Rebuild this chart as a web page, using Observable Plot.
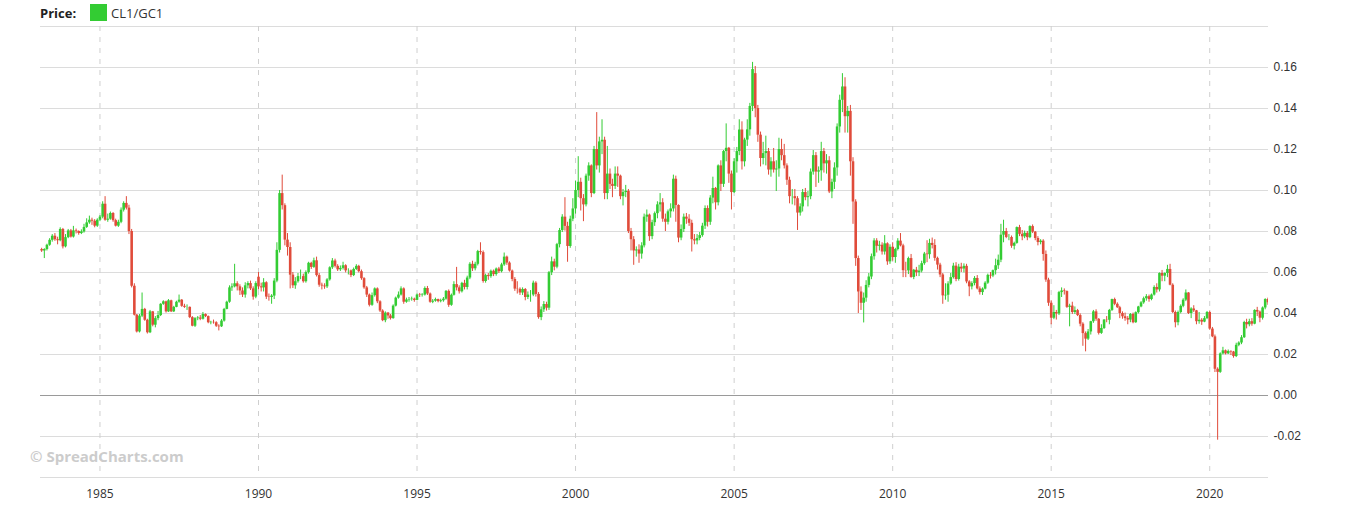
<!DOCTYPE html>
<html><head><meta charset="utf-8">
<script src="https://cdn.jsdelivr.net/npm/d3@7"></script>
<script src="https://cdn.jsdelivr.net/npm/@observablehq/plot@0.6"></script>
<style>
body{margin:0;background:#fff;width:1350px;height:506px;overflow:hidden;position:relative;font-family:"Open Sans",sans-serif}
#legend{height:22px;position:relative}
#legend .lab{position:absolute;left:40px;top:5px;font-weight:bold;font-size:13px;line-height:17px;color:#222}
#legend .sw{position:absolute;left:90px;top:4px;width:17px;height:17px;background:#33cc33}
#legend .nm{position:absolute;left:111px;top:5px;font-size:13px;line-height:17px;color:#333}
#wm{position:absolute;left:30px;top:448px;font-weight:bold;font-size:15px;line-height:16px;color:#cccccc;white-space:nowrap}
svg{display:block}
</style></head><body>
<div id="legend"><span class="lab">Price:</span><span class="sw"></span><span class="nm">CL1/GC1</span></div>
<div id="chart"></div>
<div id="wm">© SpreadCharts.com</div>
<script>
// Monthly candles of CL1/GC1, first month March 1983
const firstMonth = [1983, 2];
const seriesName = "CL1/GC1";
const yearTicks = [1985, 1990, 1995, 2000, 2005, 2010, 2015, 2020];
const priceTicks = [-0.02, 0, 0.02, 0.04, 0.06, 0.08, 0.10, 0.12, 0.14, 0.16];
const gridLevels = [-0.04, -0.02, 0, 0.02, 0.04, 0.06, 0.08, 0.10, 0.12, 0.14, 0.16, 0.18];

const open = [
.0712,.0705,.0712,.0733,.0757,.0777,.076,.0755,.081,.0725,
.077,.0803,.0773,.0803,.080,.079,.0798,.082,.0842,.0855,.085,.0826,
.0855,.087,.0933,.0855,.086,.0888,.0853,.0826,.0845,.0904,.0937,.0914,
.080,.0533,.0392,.031,.0387,.042,.0367,.0306,.0408,.0343,.0375,.039,
.0445,.0457,.0408,.0462,.0408,.043,.0455,.0465,.0435,.043,.043,.038,
.0338,.0375,.0378,.0372,.0395,.0385,.0355,.0357,.0355,.0338,.0335,.0363,
.042,.0455,.0525,.053,.0545,.053,.051,.049,.0535,.0546,.052,.048,
.0577,.053,.0525,.055,.048,.0478,.0485,.0558,.0708,.0985,.0926,.0758,
.0722,.0587,.0535,.0555,.058,.058,.0555,.06,.0645,.0625,.0657,.0585,
.0538,.0534,.053,.0564,.0623,.0656,.063,.0613,.062,.0633,.0608,.0608,
.0585,.0615,.063,.0604,.057,.0525,.049,.044,.0487,.052,.0457,.0412,
.0365,.0402,.0388,.0375,.0436,.0475,.049,.052,.0455,.0466,.0468,.047,
.0464,.049,.0488,.049,.0522,.0495,.0455,.046,.0468,.0458,.0462,.047,
.0508,.044,.0489,.0541,.0525,.0506,.0547,.0527,.0573,.064,.0618,.064,
.0702,.0697,.0556,.0585,.058,.0606,.059,.0617,.0604,.0637,.0675,.0646,
.0607,.0566,.0519,.0518,.050,.0517,.0478,.049,.049,.0548,.0493,.038,
.0418,.0444,.0426,.0599,.0652,.0626,.0736,.0805,.087,.0825,.0727,.086,
.091,.100,.104,.096,.093,.107,.112,.0985,.120,.112,.1237,.1245,
.0985,.108,.103,.102,.108,.107,.097,.099,.0996,.080,.076,.0705,
.071,.069,.073,.087,.088,.0775,.0843,.0887,.093,.094,.086,.0845,
.0896,.091,.1055,.0927,.0768,.081,.087,.086,.084,.076,.0754,.0766,
.078,.0826,.0912,.0845,.0963,.101,.094,.112,.103,.119,.1206,.108,
.099,.114,.119,.1295,.114,.1246,.1296,.141,.157,.140,.127,.1156,
.118,.119,.110,.114,.110,.1105,.120,.117,.112,.105,.097,.097,
.096,.089,.092,.099,.0965,.097,.109,.117,.109,.1096,.119,.113,
.1145,.0993,.104,.111,.131,.144,.1505,.136,.1386,.114,.0944,.0668,
.0505,.045,.0475,.0537,.0578,.0677,.0754,.0728,.0733,.070,.074,.0652,
.0723,.0673,.0712,.0753,.073,.0609,.0608,.0668,.0576,.0611,.0599,.0607,
.0643,.069,.0687,.0742,.0732,.0669,.0636,.0588,.0486,.0489,.0544,.0575,
.0631,.0566,.0626,.0617,.063,.0554,.053,.0546,.0571,.052,.0502,.0519,
.0548,.0586,.0583,.0609,.0633,.066,.0782,.080,.0771,.0771,.0728,.0742,
.0819,.0786,.0774,.0791,.077,.0824,.0797,.0766,.0746,.0753,.0688,.0563,
.045,.0377,.0405,.0398,.0502,.051,.0507,.043,.0436,.0405,.0414,.039,
.0348,.0302,.0275,.031,.036,.0408,.0372,.0303,.0327,.0368,.0367,.0415,
.0468,.0445,.0428,.040,.0384,.0375,.0368,.0395,.0355,.0404,.0432,.0452,
.0472,.0482,.0468,.049,.0527,.0515,.0595,.0582,.0595,.0615,.0538,.0405,
.0355,.0405,.0435,.0465,.050,.040,.0422,.0413,.036,.0367,.0358,.0375,
.0405,.0324,.0286,.0128,.0113,.0203,.0218,.0203,.0215,.0212,.019,.0245,
.0256,.0282,.0356,.0345,.036,.0348,.0415,.0407,.0377,.0427,.0468
];

const high = [
.0718,.0716,.0738,.0765,.0785,.079,.0772,.0818,.0815,.0785,
.081,.081,.0825,.0812,.0803,.0808,.0835,.0862,.0875,.0865,.0858,.0862,
.0878,.0945,.097,.0885,.0895,.0892,.086,.0855,.0915,.0945,.097,.0928,
.081,.0545,.0395,.0395,.050,.0425,.0372,.0415,.041,.0385,.041,.0448,
.0462,.046,.0468,.0465,.0435,.046,.049,.0468,.0445,.0442,.0432,.0385,
.038,.0385,.039,.0405,.0398,.0388,.0362,.0368,.036,.0345,.037,.0425,
.046,.0535,.0545,.064,.0555,.054,.0525,.055,.0555,.0558,.053,.0555,
.060,.0548,.057,.0555,.0495,.0492,.057,.0745,.100,.1075,.0935,.079,
.0745,.060,.0575,.0595,.0612,.0592,.0608,.065,.065,.067,.0675,.0595,
.0548,.0545,.057,.0628,.0668,.0665,.0638,.0632,.065,.0638,.0618,.0612,
.0622,.0638,.0635,.0612,.0575,.0532,.0495,.050,.0525,.0525,.0462,.0418,
.0408,.0405,.0395,.0442,.048,.0505,.053,.0525,.0475,.0478,.048,.0475,
.0495,.0498,.0497,.053,.0532,.050,.0468,.0475,.047,.047,.0478,.0512,
.0515,.0495,.0555,.0625,.0535,.0552,.0562,.0582,.0648,.0655,.065,.0708,
.0745,.0705,.0592,.0595,.0612,.0612,.0622,.0625,.0645,.0695,.068,.0652,
.0612,.0575,.0555,.0525,.0525,.0522,.0505,.0512,.0558,.0555,.0502,.0432,
.0458,.0455,.0605,.0675,.0665,.0742,.0815,.0882,.0965,.0845,.0875,.096,
.1045,.1165,.106,.098,.108,.1135,.1125,.1215,.138,.126,.1345,.126,
.1215,.1105,.1055,.1115,.1115,.1075,.1005,.1025,.1005,.0815,.0775,.0725,
.0735,.0745,.0885,.0905,.0885,.0855,.0895,.0945,.0985,.096,.0885,.0905,
.0935,.1075,.107,.093,.0832,.0885,.0888,.0882,.0855,.0785,.0785,.0795,
.084,.0925,.0925,.0975,.1065,.1015,.1125,.1145,.1195,.1325,.121,.1095,
.1155,.121,.1345,.1335,.1255,.1345,.1425,.1625,.1605,.1415,.1285,.1235,
.1265,.1205,.116,.1205,.1145,.1255,.125,.1225,.113,.1065,.1005,.1005,
.097,.0935,.1005,.101,.0995,.1105,.1195,.1185,.1115,.1235,.1205,.1175,
.1165,.1055,.1135,.1325,.1465,.157,.155,.141,.1415,.116,.0955,.068,
.053,.050,.056,.0595,.069,.0765,.0765,.0752,.0745,.078,.0745,.0735,
.0745,.0718,.0765,.079,.0738,.065,.0675,.0688,.0615,.0625,.0635,.0655,
.0698,.0755,.0762,.0768,.076,.0675,.0645,.0595,.0545,.0555,.0595,.0645,
.0648,.064,.0645,.0642,.064,.056,.0555,.058,.0585,.053,.0525,.0555,
.0592,.060,.0612,.0665,.0685,.0835,.0855,.0815,.0785,.0778,.0748,.0822,
.083,.0805,.0802,.080,.0828,.0832,.080,.0775,.076,.076,.0705,.0572,
.0462,.0438,.0415,.0508,.0525,.052,.051,.0445,.0455,.0432,.042,.0398,
.0355,.031,.0322,.0362,.0415,.0418,.0375,.0345,.037,.0385,.042,.047,
.0475,.0452,.0435,.0408,.0402,.0385,.040,.0402,.0408,.0435,.0458,.048,
.0492,.049,.0495,.0535,.0545,.0598,.061,.0598,.0635,.064,.0545,.0412,
.0412,.0442,.0472,.0515,.0502,.0428,.0438,.0415,.0405,.0375,.0385,.041,
.0412,.0332,.0295,.0135,.0208,.0235,.0222,.0222,.0218,.0215,.0255,.0262,
.0292,.0362,.0372,.0372,.0375,.0418,.043,.0412,.0432,.0472,.0475
];

const low = [
.0698,.0668,.0705,.0728,.0748,.0752,.0735,.075,.0715,.072,
.0765,.0768,.0768,.0788,.0782,.0785,.0792,.0815,.0835,.083,.0818,.082,
.0848,.0862,.085,.0845,.0855,.0845,.0822,.082,.0838,.0895,.0905,.0785,
.0525,.0388,.0305,.0305,.038,.0362,.030,.0302,.0335,.033,.0365,.0385,
.044,.0402,.0405,.0405,.0405,.0428,.045,.043,.0425,.0415,.0375,.0335,
.0332,.0365,.0365,.0368,.038,.035,.0345,.0348,.0332,.0315,.0332,.0358,
.0418,.045,.0508,.0525,.051,.0488,.0478,.0475,.052,.0512,.0465,.0472,
.0515,.0505,.0505,.0468,.046,.0445,.0468,.055,.0695,.0905,.073,.068,
.052,.0522,.0518,.0548,.0565,.0548,.0548,.0592,.0615,.062,.0578,.0528,
.0515,.0518,.0522,.0558,.0615,.0622,.0605,.0605,.0612,.0598,.0588,.0575,
.058,.061,.0598,.0562,.0518,.0478,.0432,.0435,.048,.0448,.0405,.036,
.0355,.0372,.0368,.0372,.0432,.047,.0485,.0445,.045,.0455,.046,.0455,
.0462,.0478,.048,.0485,.0488,.045,.0448,.0455,.0452,.0452,.0455,.0465,
.043,.0435,.0485,.051,.0495,.050,.0515,.0515,.0565,.0605,.0608,.0632,
.0685,.0548,.0548,.0562,.0572,.058,.0582,.0595,.0598,.063,.0635,.0602,
.0555,.0508,.0495,.0488,.0488,.0462,.0468,.0455,.0482,.048,.0372,.0365,
.0405,.0412,.0415,.0585,.0608,.0618,.072,.0795,.0802,.065,.0718,.0848,
.0885,.0965,.090,.0848,.092,.1045,.0965,.098,.110,.1085,.1175,.0955,
.0955,.1005,.0965,.1005,.1015,.0955,.0925,.0965,.079,.0705,.0635,.0675,
.0645,.0665,.072,.0845,.0752,.076,.0825,.0862,.0895,.0845,.080,.0832,
.0865,.0895,.0845,.0745,.0755,.0795,.0835,.0825,.070,.0735,.0735,.0755,
.0772,.081,.0822,.083,.0935,.0905,.0925,.0995,.1015,.114,.1035,.0905,
.0985,.1085,.117,.110,.1115,.1215,.1265,.1385,.1355,.1235,.1115,.1125,
.112,.1075,.1065,.1085,.0995,.1065,.1145,.1105,.1025,.0935,.093,.0925,
.0805,.0875,.0895,.095,.092,.0955,.1075,.1015,.1035,.1045,.1085,.108,
.0985,.096,.1005,.107,.128,.138,.128,.128,.107,.0835,.063,.040,
.0415,.0354,.0455,.0525,.0565,.066,.0695,.0705,.0685,.0685,.0635,.064,
.0655,.0645,.0705,.0725,.0575,.0575,.059,.0572,.0565,.058,.058,.0598,
.0635,.0648,.0665,.0715,.0655,.0612,.0575,.0445,.0465,.0455,.0538,.0568,
.0555,.0558,.060,.0598,.0545,.0482,.0515,.0535,.0515,.049,.0488,.0515,
.0542,.0568,.0575,.0588,.0615,.0648,.0745,.0765,.0755,.0718,.071,.0738,
.0775,.0755,.0765,.0755,.0765,.079,.0755,.073,.0735,.0655,.0552,.0435,
.0345,.037,.0368,.039,.0478,.049,.0425,.0335,.0395,.0395,.0385,.0335,
.024,.0213,.0268,.0295,.0352,.0362,.0295,.0298,.0322,.0355,.0345,.041,
.0438,.0425,.0375,.0372,.0362,.0345,.0355,.035,.0352,.0398,.0428,.0445,
.046,.0455,.0462,.0485,.050,.0505,.0555,.0555,.0575,.0535,.040,.033,
.034,.0398,.0428,.0458,.0395,.0375,.0405,.0345,.0348,.0342,.0355,.037,
.0318,.0282,.0112,-.0218,.0108,.0198,.0198,.020,.0195,.0182,.0185,.0238,
.0248,.0278,.0325,.0335,.0338,.0345,.0385,.0355,.0368,.0418,.044
];

const close = [
.0705,.0712,.0733,.0757,.0777,.076,.0755,.081,.0725,.077,
.0803,.0773,.0803,.080,.079,.0798,.082,.0842,.0855,.085,.0826,.0855,
.087,.0933,.0855,.086,.0888,.0853,.0826,.0845,.0904,.0937,.0914,.080,
.0533,.0392,.031,.0387,.042,.0367,.0306,.0408,.0343,.0375,.039,.0445,
.0457,.0408,.0462,.0408,.043,.0455,.0465,.0435,.043,.043,.038,.0338,
.0375,.0378,.0372,.0395,.0385,.0355,.0357,.0355,.0338,.0335,.0363,.042,
.0455,.0525,.053,.0545,.053,.051,.049,.0535,.0546,.052,.048,.0546,
.053,.0525,.055,.048,.0478,.0485,.0558,.0708,.0985,.0926,.0758,.0722,
.0587,.0535,.0555,.058,.058,.0555,.06,.0645,.0625,.0657,.0585,.0538,
.0534,.053,.0564,.0623,.0656,.063,.0613,.062,.0633,.0608,.0608,.0585,
.0615,.063,.0604,.057,.0525,.049,.044,.0487,.052,.0457,.0412,.0365,
.0402,.0388,.0375,.0436,.0475,.049,.052,.0455,.0466,.0468,.047,.0464,
.049,.0488,.049,.0522,.0495,.0455,.046,.0468,.0458,.0462,.047,.0508,
.044,.0489,.0541,.0525,.0506,.0547,.0527,.0573,.064,.0618,.064,.0702,
.0697,.0556,.0585,.058,.0606,.059,.0617,.0604,.0637,.0675,.0646,.0607,
.0566,.0519,.0518,.050,.0517,.0478,.049,.049,.0548,.0493,.038,.0418,
.0444,.0426,.0599,.0652,.0626,.0736,.0805,.087,.0825,.0727,.086,.091,
.100,.104,.096,.093,.107,.112,.0985,.120,.112,.1237,.1245,.0985,
.108,.103,.102,.108,.107,.097,.099,.0996,.080,.076,.0705,.071,
.069,.073,.087,.088,.0775,.0843,.0887,.093,.094,.086,.0845,.0896,
.091,.1055,.0927,.0768,.081,.087,.086,.084,.076,.0754,.0766,.078,
.0826,.0912,.0845,.0963,.101,.094,.112,.103,.119,.1206,.108,.099,
.114,.119,.1295,.114,.1246,.1296,.141,.159,.140,.127,.1156,.118,
.119,.110,.114,.110,.1105,.120,.117,.112,.105,.097,.097,.096,
.089,.092,.099,.0965,.097,.109,.117,.109,.1096,.119,.113,.1145,
.0993,.104,.111,.131,.144,.1505,.136,.1386,.114,.0944,.0668,.0505,
.045,.0475,.0537,.0578,.0677,.0754,.0728,.0733,.070,.074,.0652,.0723,
.0673,.0712,.0753,.073,.0609,.0608,.0668,.0576,.0611,.0599,.0607,.0643,
.069,.0687,.0742,.0732,.0669,.0636,.0588,.0486,.0489,.0544,.0575,.0631,
.0566,.0626,.0617,.063,.0554,.053,.0546,.0571,.052,.0502,.0519,.0548,
.0586,.0583,.0609,.0633,.066,.0782,.080,.0771,.0771,.0728,.0742,.0819,
.0786,.0774,.0791,.077,.0824,.0797,.0766,.0746,.0753,.0688,.0563,.045,
.0377,.0405,.0398,.0502,.051,.0507,.043,.0436,.0405,.0414,.039,.0348,
.0302,.0275,.031,.036,.0408,.0372,.0303,.0327,.0368,.0367,.0415,.0468,
.0445,.0428,.040,.0384,.0375,.0368,.0395,.0355,.0404,.0432,.0452,.0472,
.0482,.0468,.049,.0527,.0515,.0595,.0582,.0595,.0615,.0538,.0405,.0355,
.0405,.0435,.0465,.050,.040,.0422,.0413,.036,.0367,.0358,.0375,.0405,
.0324,.0286,.0128,.0113,.0203,.0218,.0203,.0215,.0212,.019,.0245,.0256,
.0282,.0356,.0345,.036,.0348,.0415,.0407,.0377,.0427,.0468,.0452
];

const UP = "#33cc33", DOWN = "#e04b3a";
const start = new Date(Date.UTC(firstMonth[0], firstMonth[1], 1));
const candles = close.map((c, i) => ({
  date: d3.utcMonth.offset(start, i),
  open: open[i], high: high[i], low: low[i], close: c,
  color: c >= open[i] ? UP : DOWN
}));
const tickDates = yearTicks.map(y => new Date(Date.UTC(y, 0, 1)));

const chart = Plot.plot({
  width: 1350, height: 484,
  marginTop: 4, marginBottom: 29, marginLeft: 40, marginRight: 82,
  x: {type: "utc", domain: [new Date(Date.UTC(1983, 1, 16)), new Date(Date.UTC(2021, 10, 8))]},
  y: {domain: [-0.04, 0.18]},
  color: {type: "identity"},
  style: {fontFamily: "'Open Sans', sans-serif", fontSize: "12px", background: "#fff", overflow: "visible"},
  marks: [
    Plot.ruleY(gridLevels, {stroke: "#dcdcdc"}),
    Plot.ruleX(tickDates, {stroke: "#cfcfcf", strokeDasharray: "5,6"}),
    Plot.ruleY([0], {stroke: "#9a9a9a"}),
    Plot.ruleX(candles, {x: "date", y1: "low", y2: "high", stroke: "color", strokeWidth: 1, clip: true}),
    Plot.ruleX(candles, {x: "date", y1: "open", y2: "close", stroke: "color", strokeWidth: 2.6, clip: true}),
    Plot.axisX({ticks: tickDates, tickSize: 0, tickPadding: 12, tickFormat: d3.utcFormat("%Y"), label: null, fill: "#333", fontSize: 12}),
    Plot.axisY({ticks: priceTicks, anchor: "right", tickSize: 0, tickPadding: 5, tickFormat: d => d.toFixed(2), label: null, fill: "#333", fontSize: 12, fontFamily: "'Liberation Sans', Arial, sans-serif"})
  ]
});
document.getElementById("chart").appendChild(chart);
</script>
</body></html>
